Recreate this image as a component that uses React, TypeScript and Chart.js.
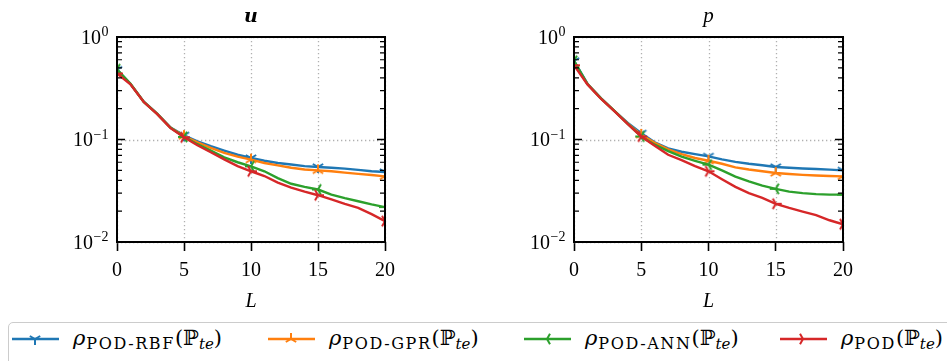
import React, { useEffect, useRef } from "react";
import { Chart, registerables } from "chart.js";

Chart.register(...registerables);

// ---------- data ----------
const modes = [0, 1, 2, 3, 4, 5, 6, 7, 8, 9, 10, 11, 12, 13, 14, 15, 16, 17, 18, 19, 20];

const uRBF = [0.48, 0.35, 0.234, 0.179, 0.131, 0.110, 0.096, 0.086, 0.078, 0.071, 0.066, 0.062, 0.059, 0.057, 0.055, 0.054, 0.053, 0.052, 0.0505, 0.049, 0.0482];
const uGPR = [0.46, 0.35, 0.233, 0.178, 0.130, 0.108, 0.094, 0.083, 0.074, 0.068, 0.0636, 0.059, 0.056, 0.053, 0.051, 0.050, 0.049, 0.0475, 0.0462, 0.045, 0.0437];
const uANN = [0.485, 0.35, 0.233, 0.178, 0.130, 0.106, 0.090, 0.078, 0.067, 0.060, 0.0547, 0.049, 0.042, 0.037, 0.0345, 0.0325, 0.029, 0.0268, 0.025, 0.0233, 0.0219];
const uPOD = [0.44, 0.345, 0.232, 0.177, 0.129, 0.105, 0.088, 0.075, 0.064, 0.055, 0.049, 0.044, 0.038, 0.034, 0.031, 0.0286, 0.026, 0.0235, 0.0215, 0.0187, 0.016];

const pRBF = [0.585, 0.35, 0.254, 0.19, 0.145, 0.115, 0.094, 0.082, 0.076, 0.072, 0.0685, 0.064, 0.0605, 0.058, 0.056, 0.054, 0.053, 0.0522, 0.0515, 0.0508, 0.050];
const pGPR = [0.55, 0.348, 0.252, 0.19, 0.143, 0.111, 0.093, 0.080, 0.072, 0.066, 0.062, 0.058, 0.0535, 0.051, 0.049, 0.0471, 0.046, 0.0452, 0.0445, 0.044, 0.0437];
const pANN = [0.585, 0.348, 0.252, 0.19, 0.142, 0.107, 0.089, 0.077, 0.068, 0.062, 0.0568, 0.050, 0.0435, 0.039, 0.0355, 0.033, 0.031, 0.030, 0.0293, 0.029, 0.029];
const pPOD = [0.53, 0.345, 0.25, 0.189, 0.141, 0.107, 0.087, 0.071, 0.063, 0.055, 0.049, 0.041, 0.0345, 0.030, 0.027, 0.0236, 0.0215, 0.0198, 0.0183, 0.0163, 0.0149];

const xTicks = [0, 5, 10, 15, 20];
const yMajor = [1, 0.1, 0.01];
const yExponents = ["0", "\u22121", "\u22122"];
const yMinor = [0.02, 0.03, 0.04, 0.05, 0.06, 0.07, 0.08, 0.09, 0.2, 0.3, 0.4, 0.5, 0.6, 0.7, 0.8, 0.9];

const seriesSubs = ["POD-RBF", "POD-GPR", "POD-ANN", "POD"];
const seriesColors = ["#1f77b4", "#ff7f0e", "#2ca02c", "#d62728"];
const seriesMarkers = ["down", "up", "left", "right"] as const;

const SERIF = "'Liberation Serif', 'DejaVu Serif', serif";
const DSERIF = "'DejaVu Serif', 'Liberation Serif', serif";

type MarkerKind = "down" | "up" | "left" | "right";

function markerArms(kind: MarkerKind, r: number): [number, number][] {
  const s = Math.sin(Math.PI / 3);
  switch (kind) {
    case "down":
      return [[0, r], [s * r, -0.5 * r], [-s * r, -0.5 * r]];
    case "up":
      return [[0, -r], [s * r, 0.5 * r], [-s * r, 0.5 * r]];
    case "left":
      return [[-r, 0], [0.5 * r, -s * r], [0.5 * r, s * r]];
    default:
      return [[r, 0], [-0.5 * r, -s * r], [-0.5 * r, s * r]];
  }
}

function makeMarker(kind: MarkerKind, color: string, r = 6, lw = 2) {
  const size = 2 * r + 4;
  const c = document.createElement("canvas");
  c.width = size;
  c.height = size;
  const g = c.getContext("2d")!;
  const cx = size / 2;
  const cy = size / 2;
  g.strokeStyle = color;
  g.lineWidth = lw;
  g.beginPath();
  for (const [dx, dy] of markerArms(kind, r)) {
    g.moveTo(cx, cy);
    g.lineTo(cx + dx, cy + dy);
  }
  g.stroke();
  return c;
}

function makeAxesPlugin(title: string, titleFont: string) {
  return {
    id: "mplAxes",
    beforeDatasetsDraw(chart: any) {
      const { ctx, chartArea: a, scales } = chart;
      const x = scales.x;
      const y = scales.y;
      ctx.save();
      ctx.strokeStyle = "#b0b0b0";
      ctx.lineWidth = 1.3;
      ctx.setLineDash([1.3, 2.7]);
      for (const v of xTicks) {
        const px = Math.round(x.getPixelForValue(v)) + 0.5;
        ctx.beginPath();
        ctx.moveTo(px, a.top);
        ctx.lineTo(px, a.bottom);
        ctx.stroke();
      }
      for (const v of yMajor) {
        const py = Math.round(y.getPixelForValue(v)) + 0.5;
        ctx.beginPath();
        ctx.moveTo(a.left, py);
        ctx.lineTo(a.right, py);
        ctx.stroke();
      }
      ctx.restore();
    },
    afterDatasetsDraw(chart: any) {
      const { ctx, chartArea: a, scales } = chart;
      const y = scales.y;
      ctx.save();
      ctx.strokeStyle = "#000";
      ctx.lineWidth = 1.6;
      const tick = (v: number, len: number) => {
        const py = y.getPixelForValue(v);
        ctx.beginPath();
        ctx.moveTo(a.left, py);
        ctx.lineTo(a.left + len, py);
        ctx.moveTo(a.right, py);
        ctx.lineTo(a.right - len, py);
        ctx.stroke();
      };
      for (const v of yMajor) tick(v, 8);
      ctx.lineWidth = 1.2;
      for (const v of yMinor) tick(v, 5);
      ctx.lineWidth = 2;
      ctx.strokeRect(a.left, a.top, a.right - a.left, a.bottom - a.top);
      ctx.restore();
    },
    afterDraw(chart: any) {
      const { ctx, chartArea: a, scales } = chart;
      const y = scales.y;
      const cx = (a.left + a.right) / 2;
      ctx.save();
      ctx.fillStyle = "#000";
      ctx.font = titleFont;
      ctx.textAlign = "center";
      ctx.textBaseline = "alphabetic";
      ctx.fillText(title, cx, 22);
      ctx.font = `italic 20px ${SERIF}`;
      ctx.fillText("L", cx, 306.5);
      const rightEdge = a.left - 9;
      yMajor.forEach((v, i) => {
        const py = y.getPixelForValue(v);
        ctx.font = `14px ${SERIF}`;
        const sw = ctx.measureText(yExponents[i]).width;
        ctx.font = `20px ${SERIF}`;
        const mw = ctx.measureText("10").width;
        const x0 = rightEdge - sw - mw;
        ctx.textAlign = "left";
        ctx.fillText("10", x0, py + 6.6);
        ctx.font = `14px ${SERIF}`;
        ctx.fillText(yExponents[i], x0 + mw + 0.5, py - 0.8);
      });
      ctx.restore();
    },
  };
}

function buildChart(
  canvas: HTMLCanvasElement,
  series: number[][],
  padRight: number,
  title: string,
  titleFont: string
) {
  const datasets = series.map((vals, k) => ({
    label: seriesSubs[k],
    data: modes.map((m, i) => ({ x: m, y: vals[i] })),
    borderColor: seriesColors[k],
    backgroundColor: seriesColors[k],
    borderWidth: 2.4,
    tension: 0,
    fill: false,
    clip: 0,
    order: 4 - k,
    pointStyle: makeMarker(seriesMarkers[k], seriesColors[k]),
    pointRadius: (c: any) => (c.dataIndex % 5 === 0 ? 6 : 0),
    pointHoverRadius: 0,
    pointBorderWidth: 0,
  }));
  return new Chart(canvas, {
    type: "line",
    data: { datasets },
    options: {
      animation: false,
      responsive: false,
      events: [],
      layout: { padding: { left: 0, right: padRight, top: 37, bottom: 0 } },
      plugins: {
        legend: { display: false },
        tooltip: { enabled: false },
        title: { display: false },
      },
      scales: {
        x: {
          type: "linear",
          min: 0,
          max: 20,
          ticks: {
            stepSize: 5,
            color: "#000",
            font: { family: SERIF, size: 20 },
            padding: 8,
            maxRotation: 0,
            autoSkip: false,
          },
          grid: {
            display: true,
            drawOnChartArea: false,
            drawTicks: true,
            tickLength: 9,
            tickColor: "#000",
            tickWidth: 1.6,
          },
          border: { display: false },
          afterFit: (s: any) => {
            s.height = 73;
          },
        },
        y: {
          type: "logarithmic",
          min: 0.01,
          max: 1,
          ticks: { display: false },
          grid: { display: false },
          border: { display: false },
          afterFit: (s: any) => {
            s.width = 117;
          },
        },
      },
    },
    plugins: [makeAxesPlugin(title, titleFont) as any],
  } as any);
}

function LegendMarker({ kind, color }: { kind: MarkerKind; color: string }) {
  const cx = 23;
  const cy = 10;
  const arms = markerArms(kind, 6);
  return (
    <svg width={47} height={20} style={{ display: "block" }}>
      <line x1={0} y1={cy} x2={47} y2={cy} stroke={color} strokeWidth={2.4} />
      {arms.map(([dx, dy], i) => (
        <line key={i} x1={cx} y1={cy} x2={cx + dx} y2={cy + dy} stroke={color} strokeWidth={2} />
      ))}
    </svg>
  );
}

const legendLineX = [12, 268, 524, 780];

export default function App() {
  const leftRef = useRef<HTMLCanvasElement>(null);
  const rightRef = useRef<HTMLCanvasElement>(null);

  useEffect(() => {
    const c1 = buildChart(leftRef.current!, [uRBF, uGPR, uANN, uPOD], 72, "u", `bold italic 19px ${DSERIF}`);
    const c2 = buildChart(rightRef.current!, [pRBF, pGPR, pANN, pPOD], 87, "p", `italic 21px ${SERIF}`);
    return () => {
      c1.destroy();
      c2.destroy();
    };
  }, []);

  return (
    <div
      style={{
        position: "fixed",
        left: 0,
        top: 0,
        width: 947,
        height: 361,
        overflow: "hidden",
        background: "#fff",
        fontFamily: SERIF,
      }}
    >
      <canvas
        ref={leftRef}
        width={457}
        height={315}
        style={{ position: "absolute", left: 0, top: 0, width: 457, height: 315 }}
      />
      <canvas
        ref={rightRef}
        width={473}
        height={315}
        style={{ position: "absolute", left: 457, top: 0, width: 473, height: 315 }}
      />
      <div
        style={{
          position: "absolute",
          left: 8,
          top: 322,
          width: 960,
          height: 60,
          border: "1px solid #cccccc",
          borderRadius: 5,
          boxSizing: "border-box",
        }}
      />
      {seriesSubs.map((sub, k) => (
        <div
          key={sub}
          style={{
            position: "absolute",
            left: legendLineX[k],
            top: 320,
            height: 38,
            display: "flex",
            alignItems: "center",
            whiteSpace: "nowrap",
            color: "#000",
          }}
        >
          <LegendMarker kind={seriesMarkers[k]} color={seriesColors[k]} />
          <span style={{ marginLeft: 14, fontSize: 21, lineHeight: "20px", fontFamily: DSERIF }}>
            <i>ρ</i>
            <span style={{ fontSize: 16, letterSpacing: 1.6, position: "relative", top: 4, marginLeft: 1 }}>{sub}</span>
            <span>(ℙ</span>
            <i style={{ fontSize: 15, position: "relative", top: 4 }}>te</i>)
          </span>
        </div>
      ))}
    </div>
  );
}
